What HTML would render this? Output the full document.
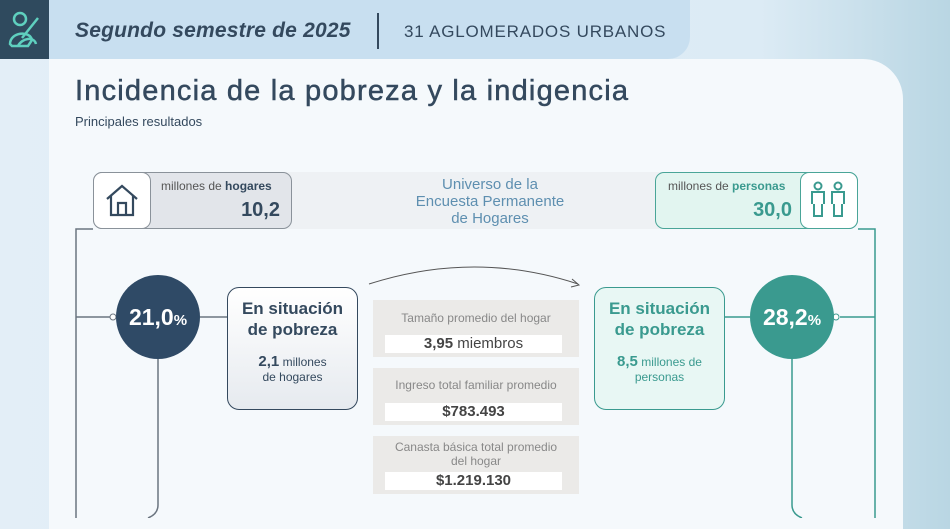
<!DOCTYPE html><html><head><meta charset="utf-8"><style>
*{margin:0;padding:0;box-sizing:border-box}
body{width:950px;height:518px;overflow:hidden;position:relative;font-family:"Liberation Sans",sans-serif;background:linear-gradient(90deg,#e3eef7 0%,#dcebf5 80%,#b9d6e3 100%)}
.a{position:absolute}
.c{text-align:center}
</style></head><body>
<div class="a" style="left:0;top:0;width:690px;height:59px;background:#c8dff0;border-bottom-right-radius:22px"></div>
<div class="a" style="left:0;top:0;width:49px;height:59px;background:#2f4a5e"></div>
<svg class="a" style="left:6px;top:10px" width="36" height="40" viewBox="0 0 36 40" fill="none" stroke="#5fd0bf" stroke-width="2.5"><circle cx="14" cy="9" r="6"/><path d="M4 34 C4 22 24 20 26 30 L22 36 L6 36 Z"/><path d="M16 28 L32 8"/><path d="M12 36 C16 28 28 26 30 34"/></svg>
<div class="a" style="left:75px;top:19px;font-size:21px;font-style:italic;font-weight:bold;color:#34495e;letter-spacing:.2px">Segundo semestre de 2025</div>
<div class="a" style="left:377px;top:13px;width:1.5px;height:36px;background:#34495e"></div>
<div class="a" style="left:404px;top:22px;font-size:17px;color:#34495e;letter-spacing:.8px">31 AGLOMERADOS URBANOS</div>
<div class="a" style="left:49px;top:59px;width:854px;height:470px;background:#f5f9fc;border-top-right-radius:40px"></div>
<div class="a" style="left:75px;top:75px;font-size:29px;color:#34495e;letter-spacing:1.2px;-webkit-text-stroke:0.5px #34495e">Incidencia de la pobreza y la indigencia</div>
<div class="a" style="left:75px;top:114px;font-size:13px;color:#34495e">Principales resultados</div>
<div class="a" style="left:140px;top:172px;width:680px;height:57px;background:#eef1f4"></div>
<div class="a c" style="left:380px;top:176px;width:220px;font-size:15px;line-height:17px;color:#5e8fb0">Universo de la<br>Encuesta Permanente<br>de Hogares</div>
<div class="a" style="left:93px;top:172px;width:199px;height:57px;background:#e2e5ea;border:1.5px solid #8a929a;border-radius:9px"></div>
<div class="a" style="left:93px;top:172px;width:58px;height:57px;background:#fff;border:1.5px solid #8a929a;border-radius:9px"></div>
<svg class="a" style="left:104px;top:182px" width="36" height="36" viewBox="0 0 36 36" fill="none" stroke="#34495e" stroke-width="2.2"><path d="M3 17 L18 4 L33 17"/><path d="M7 14 V33 H29 V14"/><path d="M14 33 V21 H22 V33"/></svg>
<div class="a" style="left:161px;top:179px;font-size:12px;color:#555">millones de <b style="color:#34495e">hogares</b></div>
<div class="a" style="left:160px;top:199px;width:120px;text-align:right;font-size:20px;font-weight:bold;color:#34495e">10,2</div>
<div class="a" style="left:655px;top:172px;width:203px;height:57px;background:#e2f5f0;border:1.5px solid #4aa598;border-radius:9px"></div>
<div class="a" style="left:800px;top:172px;width:58px;height:57px;background:#fff;border:1.5px solid #4aa598;border-radius:9px"></div>
<svg class="a" style="left:808px;top:180px" width="42" height="40" viewBox="0 0 42 40" fill="none" stroke="#3a9a8f" stroke-width="2"><circle cx="10" cy="6" r="3.5"/><circle cx="30" cy="6" r="3.5"/><path d="M4 24 V12 H16 V24 M6 24 V36 H14 V24"/><path d="M24 24 V12 H36 V24 M26 24 V36 H34 V24"/></svg>
<div class="a" style="left:668px;top:179px;font-size:12px;color:#555">millones de <b style="color:#3a9a8f">personas</b></div>
<div class="a" style="left:670px;top:199px;width:122px;text-align:right;font-size:20px;font-weight:bold;color:#3a9a8f">30,0</div>
<svg class="a" style="left:0;top:0" width="950" height="518" fill="none">
<path d="M93 229 H76 V518" stroke="#6b7580" stroke-width="1.5"/>
<path d="M76 317 H110" stroke="#6b7580" stroke-width="1.5"/><circle cx="113" cy="317" r="3" fill="#fff" stroke="#6b7580"/>
<path d="M200 317 H227" stroke="#6b7580" stroke-width="1.5"/>
<path d="M158 359 V505 Q158 514 148 518" stroke="#6b7580" stroke-width="1.5"/>
<circle cx="158" cy="317" r="42" fill="#2f4a66"/>
<path d="M858 229 H875 V518" stroke="#3a9a8f" stroke-width="1.5"/>
<path d="M840 317 H875" stroke="#3a9a8f" stroke-width="1.5"/><circle cx="836" cy="317" r="3" fill="#fff" stroke="#3a9a8f"/>
<path d="M725 317 H750" stroke="#3a9a8f" stroke-width="1.5"/>
<path d="M792 359 V505 Q792 514 802 518" stroke="#3a9a8f" stroke-width="1.5"/>
<circle cx="792" cy="317" r="42" fill="#3a9a8f"/>
<path d="M369 284 Q475 250 578 284" stroke="#555" stroke-width="1"/><path d="M572 279 L579 285 L571 287" stroke="#555" stroke-width="1"/>
</svg>
<div class="a c" style="left:116px;top:304px;width:84px;font-size:23px;font-weight:bold;color:#fff">21,0<span style="font-size:15px">%</span></div>
<div class="a c" style="left:750px;top:304px;width:84px;font-size:23px;font-weight:bold;color:#fff">28,2<span style="font-size:15px">%</span></div>
<div class="a c" style="left:227px;top:287px;width:131px;height:123px;background:linear-gradient(#fff,#e6eaef);border:1.5px solid #34495e;border-radius:12px;padding-top:10px;color:#34495e">
<div style="font-size:17px;font-weight:bold;line-height:21px">En situación<br>de pobreza</div>
<div style="font-size:12px;line-height:15px;margin-top:14px"><b style="font-size:15px">2,1</b> millones<br>de hogares</div></div>
<div class="a c" style="left:594px;top:287px;width:131px;height:123px;background:#e8f7f4;border:1.5px solid #3a9a8f;border-radius:12px;padding-top:10px;color:#3a9a8f">
<div style="font-size:17px;font-weight:bold;line-height:21px">En situación<br>de pobreza</div>
<div style="font-size:12px;line-height:15px;margin-top:14px"><b style="font-size:15px">8,5</b> millones de<br>personas</div></div>
<div class="a" style="left:373px;top:300px;width:206px;height:57px;background:#ebeae8"></div>
<div class="a c" style="left:373px;top:311px;width:206px;font-size:12px;color:#888">Tamaño promedio del hogar</div>
<div class="a c" style="left:385px;top:335px;width:177px;height:18px;background:#fff;font-size:15px;color:#444;line-height:18px"><b>3,95</b> miembros</div>
<div class="a" style="left:373px;top:368px;width:206px;height:57px;background:#ebeae8"></div>
<div class="a c" style="left:373px;top:378px;width:206px;font-size:12px;color:#888">Ingreso total familiar promedio</div>
<div class="a c" style="left:385px;top:403px;width:177px;height:18px;background:#fff;font-size:15px;font-weight:bold;color:#444;line-height:18px">$783.493</div>
<div class="a" style="left:373px;top:436px;width:206px;height:58px;background:#ebeae8"></div>
<div class="a c" style="left:373px;top:440px;width:206px;font-size:12px;line-height:14px;color:#888">Canasta básica total promedio<br>del hogar</div>
<div class="a c" style="left:385px;top:472px;width:177px;height:18px;background:#fff;font-size:15px;font-weight:bold;color:#444;line-height:18px">$1.219.130</div>
</body></html>
